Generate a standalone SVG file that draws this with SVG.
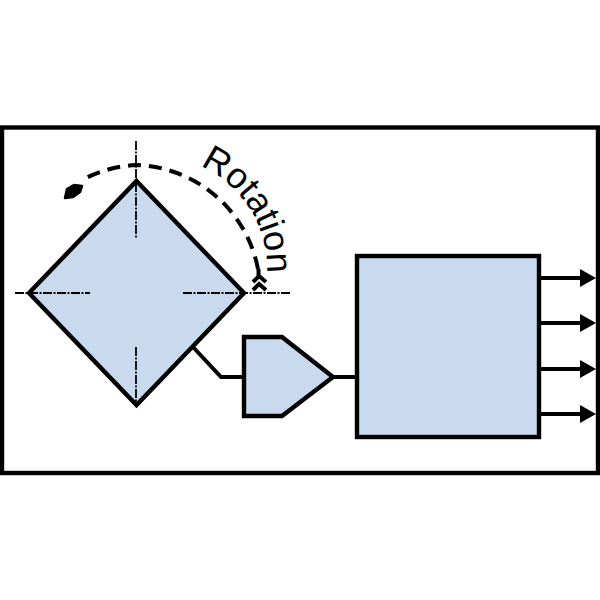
<svg xmlns="http://www.w3.org/2000/svg" width="600" height="600" viewBox="0 0 600 600">
<style>
.b{fill:#c9d9ee;stroke:#000;stroke-width:4.400;stroke-linejoin:miter}
.w{fill:none;stroke:#000;stroke-width:4}
.c{fill:none;stroke:#000;stroke-width:1.800;stroke-dasharray:9 1.500 2 1.500}
.d{fill:none;stroke:#000;stroke-width:4;stroke-dasharray:13 8}
.t{font-family:"Liberation Sans",Arial,sans-serif;font-size:36px;fill:#000}
</style>
<defs>
<path id="tp" d="M200 166 A112 112 0 0 1 267 273 L266 300"/>
</defs>
<rect id="frame" x="2" y="127.500" width="596" height="345.500" fill="#fff" stroke="#000" stroke-width="4.400"/>
<g id="connectors">
<path class="w" d="M193 347L221 377H244"/>
<path class="w" d="M333 377H357"/>
<path class="w" d="M539 278H582M539 323H582M539 369H582M539 414H582"/>
<path d="M580 269L596 278L580 287ZM580 314L596 323L580 332ZM580 360L596 369L580 378ZM580 405L596 414L580 423Z"/>
</g>
<g id="sensor"><path class="b" d="M136.500 181L244 293L136.500 405L29 293Z"/></g>
<g id="amplifier"><path class="b" d="M244 337H282L333 377L282 416H244Z"/></g>
<g id="processor"><rect class="b" x="357" y="256" width="182" height="181"/></g>
<g id="axes">
<path class="c" d="M136 141V239M136 347V405"/>
<path class="c" d="M15 293H90M183 293H290"/>
</g>
<g id="rotation">
<path class="d" d="M258 269A128 128 0 0 0 136 165A128 128 0 0 0 86 178"/>
<path d="M65 198L67 189L74 185L82 186L80 192L73 197Z" stroke="#000" stroke-width="2.500" stroke-linejoin="round"/>
<path fill="none" stroke="#000" stroke-width="4" d="M253 282L259 276L266 282M253 290L259 284L266 290M258.500 269V279"/>
<text class="t"><textPath href="#tp">Rotation</textPath></text>
</g>
</svg>
